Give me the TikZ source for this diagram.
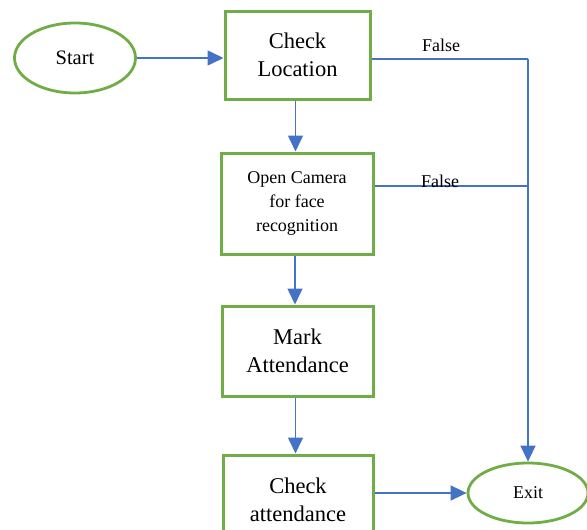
\documentclass[tikz,border=0pt]{standalone}
\usepackage{fontspec}
\setmainfont{Liberation Serif}
\usetikzlibrary{arrows.meta,shapes.geometric}
\definecolor{boxgreen}{RGB}{112,173,71}
\definecolor{flowblue}{RGB}{68,114,196}
\tikzset{
  stepbox/.style={draw=boxgreen, line width=3pt, rectangle, align=center,
    inner sep=0pt, font=\fontsize{22.5}{28}\selectfont},
  smallbox/.style={stepbox, font=\fontsize{18}{24}\selectfont},
  terminal/.style={draw=boxgreen, line width=2.8pt, ellipse, inner sep=0pt,
    font=\fontsize{20.5}{24}\selectfont},
  flow/.style={draw=flowblue, line width=1.6pt},
  flowarrow/.style={flow, -{Triangle[length=16pt,width=15pt]}},
  lbl/.style={font=\fontsize{18}{20}\selectfont, inner sep=0pt}
}
\begin{document}
\begin{tikzpicture}[x=1pt,y=-1pt]
  \useasboundingbox (0,0) rectangle (587,530);
  \clip (0,0) rectangle (587,530);

  % process steps
  \node[terminal, minimum width=121pt, minimum height=70pt] (start) at (75,58) {Start};
  \node[stepbox, minimum width=145pt, minimum height=88pt] (loc) at (297.5,55) {Check\\Location};
  \node[smallbox, minimum width=152pt, minimum height=101pt] (cam) at (297,203.5) {Open Camera\\for face\\recognition};
  \node[stepbox, minimum width=151pt, minimum height=90pt] (mark) at (297.5,351) {Mark\\Attendance};
  \node[stepbox, minimum width=150pt, minimum height=90pt] (chk) at (298,500) {Check\\attendance};
  \node[terminal, minimum width=120pt, minimum height=60pt, font=\fontsize{18}{22}\selectfont] (exit) at (528,493) {Exit};

  % junctions of the failure path
  \coordinate (j1) at (528,59);
  \coordinate (j2) at (528,186);

  % main flow
  \draw[flowarrow] (start.east) -- (loc.west |- start);
  \draw[flowarrow] ([xshift=-2pt]loc.south) -- ([xshift=-2pt]loc.south |- cam.north);
  \draw[flowarrow] ([xshift=-2pt]cam.south) -- ([xshift=-2pt]cam.south |- mark.north);
  \draw[flowarrow] ([xshift=-2pt]mark.south) -- ([xshift=-2pt]mark.south |- chk.north);
  \draw[flowarrow] (chk.east |- exit) -- (exit.west);

  % failure path to exit
  \draw[flow] (loc.east |- j1) -- (j1);
  \draw[flow] (cam.east |- j2) -- (j2);
  \draw[flowarrow] (j1) -- (exit.north);

  \node[lbl] (f1) at (441,45) {False};
  \node[lbl] (f2) at (440,181) {False};
\end{tikzpicture}
\end{document}
